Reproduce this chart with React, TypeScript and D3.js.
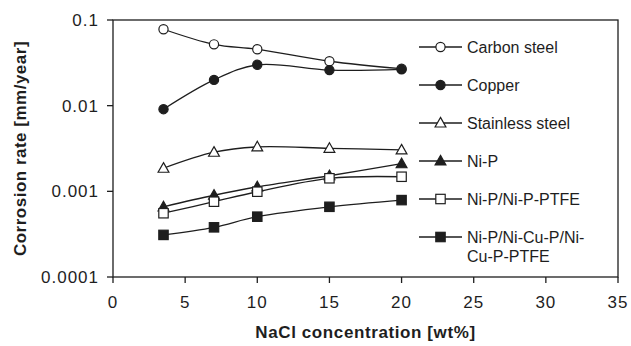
import * as d3 from "d3";

const nacl = [3.5, 7, 10, 15, 20];
const carbonSteel = [0.078, 0.052, 0.0455, 0.033, 0.027];
const copper = [0.0091, 0.02, 0.03, 0.026, 0.0265];
const stainlessSteel = [0.00186, 0.00286, 0.0033, 0.00318, 0.00304];
const niP = [0.00066, 0.0009, 0.00113, 0.00152, 0.0021];
const niPPtfe = [0.000555, 0.000757, 0.00099, 0.00142, 0.00148];
const niCuPPtfe = [0.00031, 0.00038, 0.000506, 0.00066, 0.00079];

const seriesNames = [
  "Carbon steel",
  "Copper",
  "Stainless steel",
  "Ni-P",
  "Ni-P/Ni-P-PTFE",
  "Ni-P/Ni-Cu-P/Ni-|Cu-P-PTFE",
];
const seriesValues = [carbonSteel, copper, stainlessSteel, niP, niPPtfe, niCuPPtfe];
const markerShapes = ["circle", "circle", "triangle", "triangle", "square", "square"];
const markerFilled = [false, true, false, true, false, true];

const xTicks = [0, 5, 10, 15, 20, 25, 30, 35];
const yTicks = [0.0001, 0.001, 0.01, 0.1];
const yTickLabels = ["0.0001", "0.001", "0.01", "0.1"];

const ink = "#1e1e1e";
const font = "'Liberation Sans', Arial, sans-serif";

const Marker = ({ shape, filled, x, y }) => {
  const fill = filled ? ink : "#fff";
  if (shape === "circle")
    return <circle cx={x} cy={y} r={4.6} fill={fill} stroke={ink} strokeWidth={1.2} />;
  if (shape === "square")
    return (
      <rect x={x - 4.7} y={y - 4.7} width={9.4} height={9.4} fill={fill} stroke={ink} strokeWidth={1.2} />
    );
  return (
    <path
      d={`M${x},${y - 5.6}L${x + 5.4},${y + 4}L${x - 5.4},${y + 4}Z`}
      fill={fill}
      stroke={ink}
      strokeWidth={1.2}
    />
  );
};

export default function App() {
  const width = 631;
  const height = 346;
  const left = 113;
  const right = 618;
  const top = 20;
  const bottom = 277;

  const x = d3.scaleLinear().domain([0, 35]).range([left, right]);
  const y = d3.scaleLog().domain([0.0001, 0.1]).range([bottom, top]);

  const line = d3
    .line<number>()
    .x((_, i) => x(nacl[i]))
    .y((d) => y(d))
    .curve(d3.curveCatmullRom.alpha(0.5));

  const legendX = 419;
  const legendY0 = 47;
  const legendStep = 38;

  return (
    <svg
      width={width}
      height={height}
      style={{ position: "absolute", left: 0, top: 0, background: "#fff" }}
      fontFamily={font}
    >
      {/* frame */}
      <rect x={left} y={top} width={right - left} height={bottom - top} fill="none" stroke={ink} strokeWidth={1.3} />

      {/* x axis */}
      {xTicks.map((t) => (
        <g key={t}>
          <line x1={x(t)} x2={x(t)} y1={bottom} y2={bottom + 6} stroke={ink} strokeWidth={1.3} />
          <text x={x(t)} y={308} textAnchor="middle" fontSize={17} letterSpacing={1} fill={ink}>
            {t}
          </text>
        </g>
      ))}
      <text
        x={(left + right) / 2}
        y={338}
        textAnchor="middle"
        fontSize={17}
        fontWeight="bold"
        letterSpacing={0.6}
        fill={ink}
      >
        NaCl concentration [wt%]
      </text>

      {/* y axis */}
      {yTicks.map((t, i) => (
        <g key={t}>
          <line x1={left - 6} x2={left} y1={y(t)} y2={y(t)} stroke={ink} strokeWidth={1.3} />
          <text x={99} y={y(t) + 6} textAnchor="end" fontSize={17} letterSpacing={1} fill={ink}>
            {yTickLabels[i]}
          </text>
        </g>
      ))}
      <text
        transform={`translate(26,${(top + bottom) / 2}) rotate(-90)`}
        textAnchor="middle"
        fontSize={17}
        fontWeight="bold"
        letterSpacing={0.5}
        fill={ink}
      >
        Corrosion rate [mm/year]
      </text>

      {/* series */}
      {seriesValues.map((vals, s) => (
        <g key={s}>
          <path d={line(vals) || ""} fill="none" stroke={ink} strokeWidth={1.3} />
          {vals.map((v, i) => (
            <Marker key={i} shape={markerShapes[s]} filled={markerFilled[s]} x={x(nacl[i])} y={y(v)} />
          ))}
        </g>
      ))}

      {/* legend */}
      {seriesNames.map((name, s) => {
        const ly = legendY0 + s * legendStep;
        const lines = name.split("|");
        return (
          <g key={name}>
            <line x1={legendX} x2={legendX + 43} y1={ly} y2={ly} stroke={ink} strokeWidth={1.3} />
            <Marker shape={markerShapes[s]} filled={markerFilled[s]} x={legendX + 21.5} y={ly} />
            {lines.map((t, k) => (
              <text key={k} x={467} y={ly + 6 + k * 19} fontSize={16} fill={ink}>
                {t}
              </text>
            ))}
          </g>
        );
      })}
    </svg>
  );
}
